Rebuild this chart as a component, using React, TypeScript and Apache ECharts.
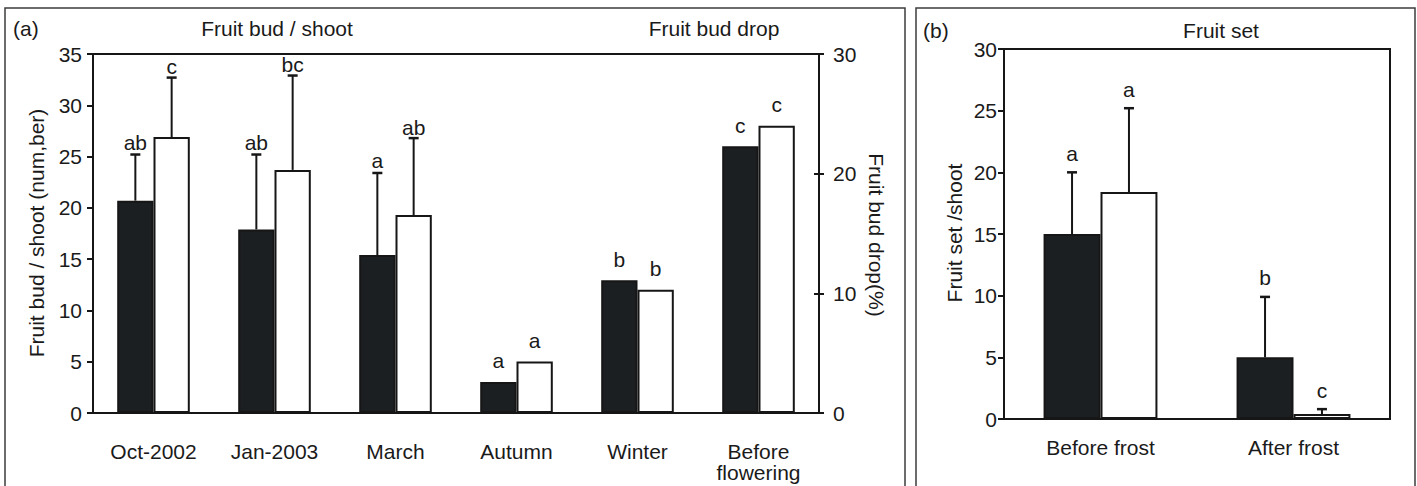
import React, { useEffect, useRef } from 'react';
import * as echarts from 'echarts';

// ---------- data ----------
const budCategories = ['Oct-2002', 'Jan-2003', 'March', 'Autumn', 'Winter', 'Before\nflowering'];
const budShootDark = [20.7, 17.9, 15.4, null, null, null];
const budShootWhite = [26.9, 23.7, 19.3, null, null, null];
const budShootDarkErr = [4.5, 7.3, 8.0, null, null, null];
const budShootWhiteErr = [5.8, 9.2, 7.5, null, null, null];
const budShootDarkLetters = ['ab', 'ab', 'a', '', '', ''];
const budShootWhiteLetters = ['c', 'bc', 'ab', '', '', ''];
const budDropDark = [null, null, null, 2.6, 11.1, 22.3];
const budDropWhite = [null, null, null, 4.3, 10.3, 24.0];
const budDropDarkLetters = ['', '', '', 'a', 'b', 'c'];
const budDropWhiteLetters = ['', '', '', 'a', 'b', 'c'];

const setCategories = ['Before frost', 'After frost'];
const fruitSetDark = [15.0, 5.0];
const fruitSetWhite = [18.4, 0.4];
const fruitSetDarkErr = [5.0, 4.9];
const fruitSetWhiteErr = [6.8, 0.4];
const fruitSetDarkLetters = ['a', 'b'];
const fruitSetWhiteLetters = ['a', 'c'];

// ---------- styles ----------
const FONT = 'Liberation Sans';
const INK = '#161616';
const TXT = '#1a1a1a';
const DARK = '#1c1f22';

function marks(
  xi: number,
  yi: number,
  values: (number | null)[],
  errs: (number | null)[] | null,
  letters: string[],
  side: number,
  frac: number,
  lift: number
) {
  const data: number[][] = [];
  values.forEach((v, i) => {
    if (v != null) data.push([i, v, errs ? (errs[i] ?? 0) : 0]);
  });
  return {
    type: 'custom',
    xAxisIndex: xi,
    yAxisIndex: yi,
    z: 5,
    silent: true,
    clip: false,
    data,
    renderItem: (params: any, api: any) => {
      const i = api.value(0);
      const v = api.value(1);
      const e = api.value(2);
      const band = api.size([1, 0])[0];
      const x = api.coord([i, 0])[0] + (side * band * frac) / 2;
      const yb = api.coord([i, v])[1];
      const yt = api.coord([i, v + e])[1];
      const children: any[] = [];
      if (e > 0) {
        children.push({
          type: 'line',
          shape: { x1: x, y1: yb, x2: x, y2: yt },
          style: { stroke: INK, lineWidth: 2 },
        });
        children.push({
          type: 'line',
          shape: { x1: x - 5, y1: yt, x2: x + 5, y2: yt },
          style: { stroke: INK, lineWidth: 2.5 },
        });
      }
      const t = letters[i];
      if (t) {
        children.push({
          type: 'text',
          x,
          y: yt - lift,
          style: {
            text: t,
            fill: TXT,
            font: `21px "${FONT}"`,
            align: 'center',
            verticalAlign: 'middle',
            textAlign: 'center',
            textVerticalAlign: 'middle',
          },
        });
      }
      return { type: 'group', children };
    },
  };
}

function txt(text: string, x: number, y: number, align: string, rotation = 0) {
  return {
    type: 'text',
    x,
    y,
    rotation,
    style: {
      text,
      fill: TXT,
      font: `21px "${FONT}"`,
      align,
      verticalAlign: 'middle',
      textAlign: align,
      textVerticalAlign: 'middle',
    },
  };
}

const lineStyle = { color: INK, width: 2 };

export default function App() {
  const ref = useRef<HTMLDivElement>(null);
  useEffect(() => {
    if (!ref.current) return;
    const chart = echarts.init(ref.current, null, { renderer: 'svg' });
    const barW1 = '30%';
    const barW2 = '29.5%';
    const option: any = {
      animation: false,
      textStyle: { fontFamily: FONT },
      grid: [
        { left: 93, right: 1417 - 819, top: 54, bottom: 486 - 413, show: true, borderColor: INK, borderWidth: 2 },
        { left: 1004, right: 1417 - 1390, top: 49, bottom: 486 - 419, show: true, borderColor: INK, borderWidth: 2 },
      ],
      xAxis: [
        {
          type: 'category', gridIndex: 0, data: budCategories,
          axisLine: { lineStyle }, axisTick: { length: 5, lineStyle },
          axisLabel: { fontSize: 21, color: TXT, margin: 28, lineHeight: 21, fontFamily: FONT },
          splitLine: { show: false },
        },
        {
          type: 'category', gridIndex: 0, data: budCategories,
          axisLine: { show: false }, axisTick: { inside: true, length: 5, lineStyle },
          axisLabel: { show: false }, splitLine: { show: false },
        },
        {
          type: 'category', gridIndex: 1, data: setCategories,
          axisLine: { lineStyle }, axisTick: { length: 5, lineStyle },
          axisLabel: { fontSize: 21, color: TXT, margin: 18, fontFamily: FONT },
          splitLine: { show: false },
        },
      ],
      yAxis: [
        {
          type: 'value', gridIndex: 0, min: 0, max: 35, interval: 5,
          axisLine: { show: true, lineStyle }, axisTick: { show: true, length: 6, lineStyle },
          axisLabel: { fontSize: 21, color: TXT, margin: 11, fontFamily: FONT },
          splitLine: { show: false },
        },
        {
          type: 'value', gridIndex: 0, position: 'right', min: 0, max: 30, interval: 10,
          axisLine: { show: true, lineStyle }, axisTick: { show: true, length: 5, lineStyle },
          axisLabel: { fontSize: 21, color: TXT, margin: 14, fontFamily: FONT },
          splitLine: { show: false },
        },
        {
          type: 'value', gridIndex: 0, position: 'right', min: 0, max: 30, interval: 10,
          axisLine: { show: false }, axisTick: { show: true, inside: true, length: 5, lineStyle },
          axisLabel: { show: false }, splitLine: { show: false },
        },
        {
          type: 'value', gridIndex: 1, min: 0, max: 30, interval: 5,
          axisLine: { show: true, lineStyle }, axisTick: { show: true, length: 6, lineStyle },
          axisLabel: { fontSize: 21, color: TXT, margin: 7, fontFamily: FONT },
          splitLine: { show: false },
        },
      ],
      series: [
        {
          type: 'bar', xAxisIndex: 0, yAxisIndex: 0, data: budShootDark, barWidth: barW1, barGap: '0%',
          itemStyle: { color: DARK, borderColor: INK, borderWidth: 2 },
        },
        {
          type: 'bar', xAxisIndex: 0, yAxisIndex: 0, data: budShootWhite, barWidth: barW1, barGap: '0%',
          itemStyle: { color: '#ffffff', borderColor: INK, borderWidth: 2 },
        },
        {
          type: 'bar', xAxisIndex: 1, yAxisIndex: 1, data: budDropDark, barWidth: barW1, barGap: '0%',
          itemStyle: { color: DARK, borderColor: INK, borderWidth: 2 },
        },
        {
          type: 'bar', xAxisIndex: 1, yAxisIndex: 1, data: budDropWhite, barWidth: barW1, barGap: '0%',
          itemStyle: { color: '#ffffff', borderColor: INK, borderWidth: 2 },
        },
        {
          type: 'bar', xAxisIndex: 2, yAxisIndex: 3, data: fruitSetDark, barWidth: barW2, barGap: '0%',
          itemStyle: { color: DARK, borderColor: INK, borderWidth: 2 },
        },
        {
          type: 'bar', xAxisIndex: 2, yAxisIndex: 3, data: fruitSetWhite, barWidth: barW2, barGap: '0%',
          itemStyle: { color: '#ffffff', borderColor: INK, borderWidth: 2 },
        },
        marks(0, 0, budShootDark, budShootDarkErr, budShootDarkLetters, -1, 0.3, 12),
        marks(0, 0, budShootWhite, budShootWhiteErr, budShootWhiteLetters, 1, 0.3, 11),
        marks(1, 1, budDropDark, null, budDropDarkLetters, -1, 0.3, 21),
        marks(1, 1, budDropWhite, null, budDropWhiteLetters, 1, 0.3, 21),
        marks(2, 3, fruitSetDark, fruitSetDarkErr, fruitSetDarkLetters, -1, 0.295, 19),
        marks(2, 3, fruitSetWhite, fruitSetWhiteErr, fruitSetWhiteLetters, 1, 0.295, 19),
      ],
      graphic: [
        { type: 'rect', shape: { x: 5, y: 8, width: 900, height: 520 }, style: { fill: 'none', stroke: '#3c3c3c', lineWidth: 1.5 }, silent: true },
        { type: 'rect', shape: { x: 916, y: 8, width: 499, height: 520 }, style: { fill: 'none', stroke: '#3c3c3c', lineWidth: 1.5 }, silent: true },
        txt('(a)', 13, 28, 'left'),
        txt('Fruit bud / shoot', 277, 28, 'center'),
        txt('Fruit bud drop', 714, 28, 'center'),
        txt('(b)', 923, 30, 'left'),
        txt('Fruit set', 1221, 30, 'center'),
        txt('Fruit bud / shoot (num,ber)', 36, 233, 'center', Math.PI / 2),
        txt('Fruit bud drop(%)', 876, 235, 'center', -Math.PI / 2),
        txt('Fruit set /shoot', 954, 233, 'center', Math.PI / 2),
      ],
    };
    chart.setOption(option);
    return () => chart.dispose();
  }, []);
  return (
    <div
      ref={ref}
      style={{ position: 'absolute', left: 0, top: 0, width: 1417, height: 486, background: '#fff' }}
    />
  );
}
